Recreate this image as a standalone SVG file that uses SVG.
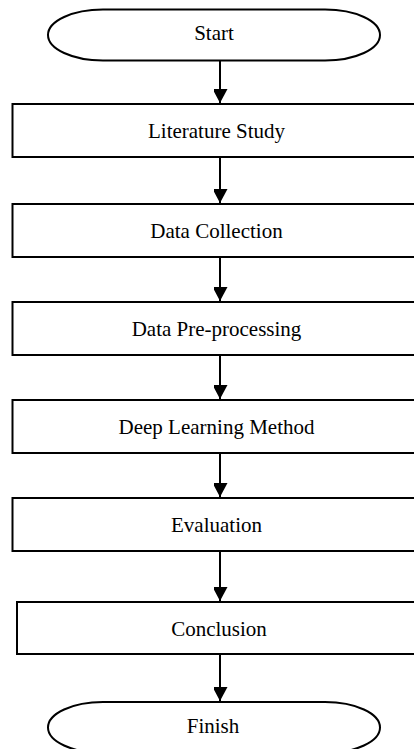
<svg xmlns="http://www.w3.org/2000/svg" width="414" height="749" viewBox="0 0 414 749">
<style>
.box{fill:#fff;stroke:#000;stroke-width:2}
.lbl{font-family:"Liberation Serif","Times New Roman",serif;font-size:21px;fill:#000;text-anchor:middle}
.con{stroke:#000;stroke-width:2;fill:none}
</style>
<defs>
<marker id="ah" markerWidth="15" markerHeight="14" refX="14" refY="7.5" orient="auto" markerUnits="userSpaceOnUse">
<path d="M0,0 L14,7.5 L0,15 Z" fill="#000"/>
</marker>
</defs>
<rect width="414" height="749" fill="#fff"/>
<g id="start"><rect class="box" x="48" y="9.5" width="332" height="51" rx="55" ry="25.5"/><text class="lbl" x="214" y="40">Start</text></g>
<g id="literature"><rect class="box" x="12.5" y="104" width="410" height="53"/><text class="lbl" x="216.5" y="138">Literature Study</text></g>
<g id="collection"><rect class="box" x="12.5" y="204" width="410" height="53"/><text class="lbl" x="216.5" y="238">Data Collection</text></g>
<g id="preprocessing"><rect class="box" x="12.5" y="302" width="410" height="53"/><text class="lbl" x="216.5" y="336">Data Pre-processing</text></g>
<g id="deeplearning"><rect class="box" x="12.5" y="400" width="410" height="53"/><text class="lbl" x="216.5" y="434">Deep Learning Method</text></g>
<g id="evaluation"><rect class="box" x="12.5" y="498" width="410" height="53"/><text class="lbl" x="216.5" y="532">Evaluation</text></g>
<g id="conclusion"><rect class="box" x="17" y="602" width="410" height="52"/><text class="lbl" x="219" y="635.5">Conclusion</text></g>
<g id="finish"><rect class="box" x="48" y="702" width="332" height="51" rx="55" ry="25.5"/><text class="lbl" x="213" y="733">Finish</text></g>
<g id="connectors">
<line class="con" x1="220" y1="61" x2="220" y2="103" marker-end="url(#ah)"/>
<line class="con" x1="220" y1="157" x2="220" y2="203" marker-end="url(#ah)"/>
<line class="con" x1="220" y1="257" x2="220" y2="301" marker-end="url(#ah)"/>
<line class="con" x1="220" y1="355" x2="220" y2="399" marker-end="url(#ah)"/>
<line class="con" x1="220" y1="453" x2="220" y2="497" marker-end="url(#ah)"/>
<line class="con" x1="220" y1="551" x2="220" y2="601" marker-end="url(#ah)"/>
<line class="con" x1="220" y1="654" x2="220" y2="701" marker-end="url(#ah)"/>
</g>
</svg>
